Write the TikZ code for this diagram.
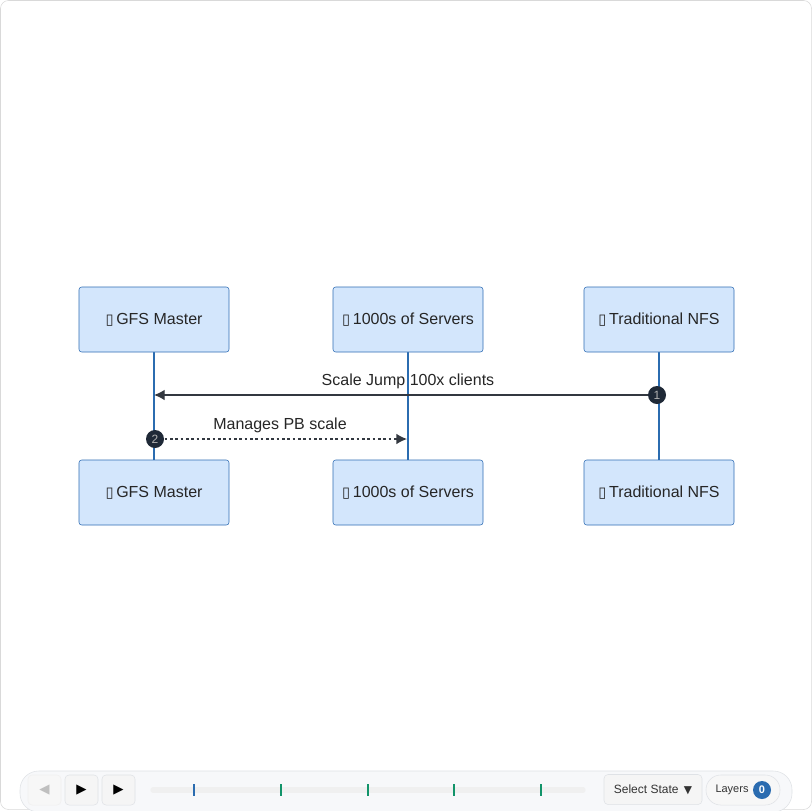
\documentclass[tikz,border=0pt]{standalone}
\usepackage{fontspec}
\setmainfont{Liberation Sans}
\newfontfamily\symfont{DejaVu Sans}
\usetikzlibrary{arrows.meta}
\definecolor{actfill}{HTML}{D3E6FC}
\definecolor{actline}{HTML}{2F6DB5}
\definecolor{lifeline}{HTML}{2B6CB0}
\definecolor{msgline}{HTML}{333840}
\definecolor{badge}{HTML}{1F2937}
\definecolor{barfill}{HTML}{F7F8FA}
\definecolor{barline}{HTML}{DFE2E6}
\definecolor{tickgreen}{HTML}{12946A}
\newcommand{\tofu}{{\symfont\fontsize{11}{12}\selectfont ▯}\kern2pt}
\tikzset{
  actor/.style={rectangle, rounded corners=2pt, draw=actline, fill=actfill, minimum width=112.5pt, minimum height=48.75pt, font=\fontsize{12}{14}\selectfont, text=black!85},
  life/.style={draw=lifeline, line width=1.5pt},
  msg/.style={draw=msgline, line width=1pt, -{Latex[length=8pt,width=8pt]}},
  seqnum/.style={circle, fill=badge, inner sep=0pt, minimum size=13.5pt, text=black!30, font=\fontsize{9}{10}\selectfont},
  msglabel/.style={font=\fontsize{12}{14}\selectfont, text=black!85},
  btn/.style={rectangle, rounded corners=3pt, draw=barline, fill=black!4, minimum width=24.75pt, minimum height=22.5pt},
  tick/.style={line width=1.5pt}
}
\begin{document}
\begin{tikzpicture}[x=0.75pt, y=-0.75pt]
\useasboundingbox (0,0) rectangle (812,810);
\draw[draw=black!15, fill=white, rounded corners=6pt] (0.5,0.5) rectangle (811.5,809.5);
% lifelines
\draw[life] (154,318) -- (154,491);
\draw[life] (408,318) -- (408,491);
\draw[life] (659,318) -- (659,491);
% actors, top row
\node[actor] (mastertop) at (154,319.5) {\tofu GFS Master};
\node[actor] (serverstop) at (408,319.5) {\tofu 1000s of Servers};
\node[actor] (nfstop) at (659,319.5) {\tofu Traditional NFS};
% actors, bottom row
\node[actor] (masterbot) at (154,492.5) {\tofu GFS Master};
\node[actor] (serversbot) at (408,492.5) {\tofu 1000s of Servers};
\node[actor] (nfsbot) at (659,492.5) {\tofu Traditional NFS};
% messages
\coordinate (mfrom) at (659,395);
\coordinate (mto) at (154,395);
\draw[msg] (mfrom) -- (mto);
\node[msglabel] (mlabel) at (408,381) {Scale Jump 100x clients};
\node[seqnum] (num1) at (657,395) {1};
\coordinate (pfrom) at (154,439);
\coordinate (pto) at (407,439);
\draw[msg, dash pattern=on 2pt off 2pt] (pfrom) -- (pto);
\node[msglabel] (plabel) at (280,425) {Manages PB scale};
\node[seqnum] (num2) at (155,439) {2};
% toolbar
\draw[draw=barline, fill=barfill, rounded corners=14pt] (20,771) rectangle (792,812);
\node[btn, draw=black!6, fill=black!3, text=black!25] (prevbtn) at (44.5,790) {\symfont\fontsize{10}{10}\selectfont ◀};
\node[btn] (playbtn) at (81.5,790) {\symfont\fontsize{10}{10}\selectfont ▶};
\node[btn] (nextbtn) at (118.5,790) {\symfont\fontsize{10}{10}\selectfont ▶};
\draw[line width=4pt, draw=black!6, line cap=round] (153,790) -- (583,790);
\draw[tick, draw=lifeline, line width=2.2pt] (194,784) -- (194,796);
\foreach \tx in {281,368,454,541}
  \draw[tick, draw=tickgreen] (\tx,784) -- (\tx,796);
\node[btn, minimum width=73.5pt, font=\fontsize{9}{10}\selectfont, text=black!80] (statebtn) at (653,789.5) {Select State\, {\symfont\fontsize{8}{8}\selectfont ▼}};
\node[rectangle, rounded corners=11pt, draw=barline, fill=black!3, minimum width=55.5pt, minimum height=22.5pt] (layersbtn) at (743,790) {};
\node[font=\fontsize{8.25}{10}\selectfont, text=black!80] (layerstxt) at (732,789.5) {Layers};
\node[circle, fill=lifeline, inner sep=0pt, minimum size=13.5pt, text=white, font=\bfseries\fontsize{8.25}{10}\selectfont] (layerscount) at (762,790) {0};
\end{tikzpicture}
\end{document}
